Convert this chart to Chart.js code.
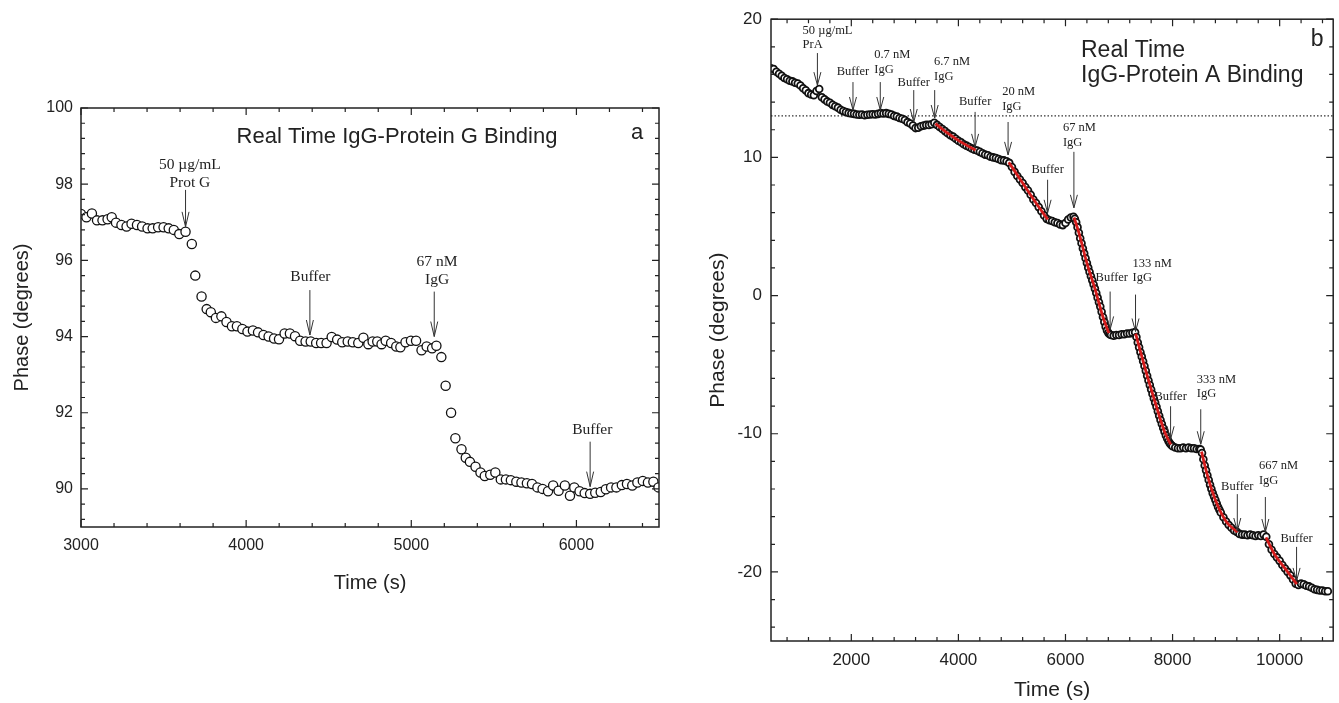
<!DOCTYPE html>
<html>
<head>
<meta charset="utf-8">
<script src="https://cdn.jsdelivr.net/npm/chart.js@4.4.1/dist/chart.umd.min.js"></script>
<style>
  body { margin: 0; background: #fff; }
  #wrapA { position: absolute; left: 0; top: 0; width: 680px; height: 620px; }
  #wrapB { position: absolute; left: 680px; top: 0; width: 659px; height: 703px; }
</style>
</head>
<body>
<div id="wrapA"><canvas id="chartA" width="680" height="620"></canvas></div>
<div id="wrapB"><canvas id="chartB" width="659" height="703"></canvas></div>
<script>
// ---- panel a : IgG - protein G ----
var aTimes = [3000,3033,3066,3097,3130,3161,3186,3212,3245,3276,
              3306,3339,3370,3403,3434,3467,3500,3531,3562,3595,
              3633,3671,3692,3730,3761,3786,3817,3850,3881,3914,
              3944,3977,4008,4041,4072,4105,4136,4169,4199,4233,
              4265,4296,4327,4360,4391,4424,4454,4487,4518,4551,
              4582,4615,4646,4679,4710,4740,4766,4794,4820,4845,
              4878,4909,4934,4965,4998,5029,5062,5093,5126,5152,
              5182,5208,5241,5267,5304,5330,5355,5389,5419,5445,
              5478,5509,5542,5573,5603,5636,5667,5700,5731,5764,
              5795,5828,5859,5892,5930,5961,5987,6019,6050,6083,
              6114,6147,6178,6210,6242,6275,6306,6338,6369,6402,
              6433,6466,6497];
var aPhase = [97.22,97.13,97.23,97.05,97.05,97.08,97.13,96.99,96.93,96.89,
              96.96,96.93,96.89,96.84,96.84,96.87,96.87,96.84,96.80,96.69,
              96.75,96.43,95.60,95.05,94.72,94.64,94.49,94.53,94.38,94.27,
              94.27,94.20,94.13,94.16,94.11,94.04,94.00,93.95,93.93,94.08,
              94.08,94.01,93.89,93.87,93.87,93.83,93.83,93.83,93.99,93.92,
              93.85,93.87,93.85,93.83,93.97,93.80,93.87,93.87,93.80,93.89,
              93.83,93.74,93.72,93.85,93.89,93.89,93.64,93.74,93.69,93.76,
              93.46,92.71,92.00,91.33,91.04,90.82,90.71,90.58,90.43,90.34,
              90.37,90.43,90.25,90.25,90.23,90.19,90.17,90.15,90.13,90.04,
              90.00,89.94,90.09,89.95,90.09,89.82,90.04,89.94,89.89,89.87,
              89.90,89.92,89.99,90.04,90.04,90.10,90.13,90.09,90.17,90.21,
              90.17,90.19,90.04];
var aXTicks = [3000, 4000, 5000, 6000];
var aYTicks = [90, 92, 94, 96, 98, 100];

var aNotes = [
  { lines: ['50 \u00b5g/mL', 'Prot G'], t: 3633, tail: 97.85, tip: 96.88, tx: 3659, ty: 98.5 },
  { lines: ['Buffer'], t: 4386, tail: 95.22, tip: 94.04, tx: 4389, ty: 95.56 },
  { lines: ['67 nM', 'IgG'], t: 5139, tail: 95.18, tip: 94.0, tx: 5156, ty: 95.96 },
  { lines: ['Buffer'], t: 6083, tail: 91.24, tip: 90.06, tx: 6096, ty: 91.55 }
];

// ---- panel b : IgG - protein A ----
var bTimes = [500,550,600,650,700,750,800,850,900,950,
              1000,1050,1100,1150,1200,1250,1300,1350,1400,1450,
              1500,1550,1600,1650,1700,1750,1800,1850,1900,1950,
              2000,2050,2100,2150,2200,2250,2300,2350,2400,2450,
              2500,2550,2600,2650,2700,2750,2800,2850,2900,2950,
              3000,3050,3100,3150,3200,3250,3300,3350,3400,3450,
              3500,3550,3600,3650,3700,3750,3800,3850,3900,3950,
              4000,4050,4100,4150,4200,4250,4300,4350,4400,4450,
              4500,4550,4600,4650,4700,4750,4800,4850,4900,4950,
              5000,5050,5100,5150,5200,5250,5300,5350,5400,5450,
              5500,5550,5600,5650,5700,5750,5800,5850,5900,5950,
              6000,6050,6100,6150,6175,6200,6225,6250,6275,6300,
              6325,6350,6375,6400,6425,6450,6475,6500,6525,6550,
              6575,6600,6625,6650,6675,6700,6725,6750,6775,6800,
              6825,6850,6900,6950,7000,7050,7100,7150,7200,7250,
              7300,7325,7350,7375,7400,7425,7450,7475,7500,7525,
              7550,7575,7600,7625,7650,7675,7700,7725,7750,7775,
              7800,7825,7850,7875,7900,7925,7950,7975,8000,8050,
              8100,8150,8200,8250,8300,8350,8400,8450,8500,8525,
              8550,8575,8600,8625,8650,8675,8700,8725,8750,8775,
              8800,8825,8850,8875,8900,8950,9000,9050,9100,9150,
              9200,9250,9300,9350,9400,9450,9500,9550,9600,9650,
              9700,9750,9800,9850,9900,9950,10000,10050,10100,10150,
              10200,10250,10300,10350,10400,10450,10500,10550,10600,10650,
              10700,10750,10800,10850,10900];
var bPhase = [16.45,16.40,16.20,16.05,15.90,15.75,15.65,15.55,15.50,15.40,
              15.35,15.20,15.00,14.85,14.65,14.55,14.50,14.80,14.95,14.35,
              14.20,14.05,13.95,13.80,13.70,13.60,13.45,13.35,13.28,13.22,
              13.18,13.15,13.10,13.08,13.10,13.05,13.08,13.10,13.12,13.10,
              13.15,13.20,13.18,13.20,13.15,13.10,13.00,12.95,12.85,12.80,
              12.70,12.55,12.45,12.30,12.12,12.15,12.25,12.30,12.35,12.35,
              12.40,12.50,12.35,12.20,12.05,11.90,11.75,11.60,11.50,11.35,
              11.20,11.10,10.95,10.85,10.75,10.65,10.55,10.50,10.40,10.30,
              10.20,10.15,10.05,10.00,9.95,9.88,9.80,9.78,9.72,9.60,
              9.30,8.95,8.65,8.40,8.15,7.85,7.60,7.30,6.95,6.70,
              6.40,6.10,5.80,5.55,5.45,5.40,5.30,5.25,5.15,5.10,
              5.25,5.50,5.65,5.70,5.55,5.30,4.95,4.55,4.15,3.78,
              3.40,3.05,2.70,2.35,2.02,1.70,1.40,1.10,0.80,0.50,
              0.18,-0.15,-0.48,-0.80,-1.18,-1.55,-1.92,-2.25,-2.52,-2.70,
              -2.80,-2.85,-2.90,-2.85,-2.85,-2.80,-2.80,-2.75,-2.75,-2.70,
              -2.65,-3.00,-3.40,-3.75,-4.10,-4.42,-4.75,-5.10,-5.45,-5.80,
              -6.15,-6.48,-6.80,-7.12,-7.45,-7.75,-8.05,-8.38,-8.70,-9.00,
              -9.30,-9.58,-9.85,-10.12,-10.35,-10.55,-10.70,-10.82,-10.90,-11.00,
              -11.05,-11.05,-11.00,-11.05,-11.00,-11.05,-11.05,-11.10,-11.10,-11.15,
              -11.40,-11.85,-12.30,-12.65,-13.00,-13.35,-13.70,-14.00,-14.30,-14.55,
              -14.80,-15.05,-15.30,-15.50,-15.70,-16.05,-16.35,-16.60,-16.80,-17.00,
              -17.10,-17.25,-17.30,-17.30,-17.35,-17.30,-17.35,-17.40,-17.35,-17.40,
              -17.30,-17.45,-18.00,-18.40,-18.70,-18.95,-19.20,-19.50,-19.75,-20.00,
              -20.25,-20.55,-20.85,-20.95,-20.85,-20.90,-21.00,-21.05,-21.15,-21.25,
              -21.30,-21.35,-21.35,-21.40,-21.40];

// red fitted curves over the binding steps
var fitTimes = [
  [3570, 3800, 4050, 4320],
  [4940, 5200, 5450, 5670],
  [6160, 6250, 6400, 6550, 6700, 6810],
  [7310, 7500, 7700, 7850, 7965],
  [8540, 8650, 8800, 9000, 9210],
  [9745, 9900, 10100, 10320]
];
var fitPhase = [
  [12.45, 11.75, 11.10, 10.52],
  [9.65, 8.15, 6.70, 5.50],
  [5.65, 4.55, 2.35, 0.50, -1.55, -2.72],
  [-2.75, -5.45, -8.05, -9.85, -10.78],
  [-11.30, -13.00, -14.80, -16.35, -17.12],
  [-17.50, -18.70, -19.75, -20.88]
];
var baseline = 13;
var bXTicks = [2000, 4000, 6000, 8000, 10000];
var bYTicks = [-20, -10, 0, 10, 20];

var bNotes = [
  { lines: ['50 \u00b5g/mL', 'PrA'], t: 1367, tail: 17.55, tip: 15.23, tx: 1090, ty: 19.2, align: 'left' },
  { lines: ['Buffer'], t: 2031, tail: 15.45, tip: 13.43, tx: 2031, ty: 16.17 },
  { lines: ['0.7 nM', 'IgG'], t: 2541, tail: 15.45, tip: 13.43, tx: 2428, ty: 17.40, align: 'left' },
  { lines: ['Buffer'], t: 3166, tail: 14.87, tip: 12.56, tx: 3166, ty: 15.38 },
  { lines: ['6.7 nM', 'IgG'], t: 3557, tail: 14.87, tip: 12.85, tx: 3544, ty: 16.90, align: 'left' },
  { lines: ['Buffer'], t: 4312, tail: 13.29, tip: 10.76, tx: 4312, ty: 14.01 },
  { lines: ['20 nM', 'IgG'], t: 4928, tail: 12.56, tip: 10.18, tx: 4817, ty: 14.73, align: 'left' },
  { lines: ['Buffer'], t: 5666, tail: 8.38, tip: 5.99, tx: 5666, ty: 9.10 },
  { lines: ['67 nM', 'IgG'], t: 6157, tail: 10.40, tip: 6.35, tx: 5952, ty: 12.13, align: 'left' },
  { lines: ['Buffer'], t: 6834, tail: 0.29, tip: -2.45, tx: 6865, ty: 1.30 },
  { lines: ['133 nM', 'IgG'], t: 7308, tail: 0.07, tip: -2.60, tx: 7253, ty: 2.31, align: 'left' },
  { lines: ['Buffer'], t: 7963, tail: -8.01, tip: -10.40, tx: 7963, ty: -7.29 },
  { lines: ['333 nM', 'IgG'], t: 8526, tail: -8.23, tip: -10.76, tx: 8452, ty: -6.06, align: 'left' },
  { lines: ['Buffer'], t: 9209, tail: -14.37, tip: -17.04, tx: 9209, ty: -13.86 },
  { lines: ['667 nM', 'IgG'], t: 9733, tail: -14.58, tip: -17.11, tx: 9613, ty: -12.35, align: 'left' },
  { lines: ['Buffer'], t: 10316, tail: -18.19, tip: -20.65, tx: 10316, ty: -17.62 }
];

var SANS = '"Liberation Sans", Arial, Helvetica, sans-serif';
var SERIF = '"Liberation Serif", "Times New Roman", serif';
var INK = '#222';

function toPts(ts, vs) {
  return ts.map(function (t, i) { return { x: t, y: vs[i] }; });
}

// frame, inward ticks on four sides, arrows with labels, panel title
function decorPlugin(cfg) {
  return {
    id: 'decor',
    afterDatasetsDraw: function (chart) {
      var ctx = chart.ctx, ca = chart.chartArea;
      var xs = chart.scales.x, ys = chart.scales.y;
      ctx.save();
      ctx.strokeStyle = INK;
      ctx.lineWidth = 1.5;
      ctx.strokeRect(ca.left, ca.top, ca.right - ca.left, ca.bottom - ca.top);

      ctx.lineWidth = 1.2;
      ctx.beginPath();
      var k, v, p, len;
      for (k = Math.ceil(xs.min / cfg.xMinor - 1e-9); k * cfg.xMinor <= xs.max + 1e-9; k++) {
        v = k * cfg.xMinor;
        len = Math.abs(v / cfg.xMajor - Math.round(v / cfg.xMajor)) < 1e-6 ? 7 : 4;
        p = xs.getPixelForValue(v);
        ctx.moveTo(p, ca.bottom); ctx.lineTo(p, ca.bottom - len);
        ctx.moveTo(p, ca.top); ctx.lineTo(p, ca.top + len);
      }
      for (k = Math.ceil(ys.min / cfg.yMinor - 1e-9); k * cfg.yMinor <= ys.max + 1e-9; k++) {
        v = k * cfg.yMinor;
        len = Math.abs(v / cfg.yMajor - Math.round(v / cfg.yMajor)) < 1e-6 ? 7 : 4;
        p = ys.getPixelForValue(v);
        ctx.moveTo(ca.left, p); ctx.lineTo(ca.left + len, p);
        ctx.moveTo(ca.right, p); ctx.lineTo(ca.right - len, p);
      }
      ctx.stroke();

      // arrows
      ctx.strokeStyle = '#333';
      ctx.lineWidth = 1;
      ctx.fillStyle = INK;
      ctx.font = cfg.noteSize + 'px ' + SERIF;
      ctx.textBaseline = 'middle';
      cfg.notes.forEach(function (n) {
        var px = xs.getPixelForValue(n.t);
        var y0 = ys.getPixelForValue(n.tail);
        var y1 = ys.getPixelForValue(n.tip);
        ctx.beginPath();
        ctx.moveTo(px, y0); ctx.lineTo(px, y1);
        ctx.moveTo(px - cfg.head[0], y1 - cfg.head[1]); ctx.lineTo(px, y1);
        ctx.lineTo(px + cfg.head[0], y1 - cfg.head[1]);
        ctx.stroke();
        var tx = xs.getPixelForValue(n.tx), ty = ys.getPixelForValue(n.ty);
        ctx.textAlign = n.align || 'center';
        n.lines.forEach(function (s, i) { ctx.fillText(s, tx, ty + i * cfg.noteStep); });
      });

      // panel title and letter
      ctx.font = cfg.titleSize + 'px ' + SANS;
      ctx.textAlign = cfg.titleAlign;
      cfg.title.forEach(function (s, i) {
        ctx.fillText(s, ca.left + cfg.titleDx, ca.top + cfg.titleDy + i * cfg.titleStep);
      });
      ctx.textAlign = 'center';
      ctx.fillText(cfg.letter, ca.right + cfg.letterDx, ca.top + cfg.letterDy);
      ctx.restore();
    }
  };
}

function axis(min, max, ticks, tickSize, pad, title, titleSize, titlePad, fitKey, fitVal) {
  var o = {
    type: 'linear', min: min, max: max,
    afterBuildTicks: function (s) { s.ticks = ticks.map(function (v) { return { value: v }; }); },
    ticks: { padding: pad, color: INK, font: { family: SANS, size: tickSize },
             callback: function (v) { return String(v); } },
    grid: { display: false, drawTicks: false },
    border: { display: false },
    title: { display: true, text: title, color: INK, padding: titlePad,
             font: { family: SANS, size: titleSize, lineHeight: 1.2 } }
  };
  o.afterFit = function (s) { s[fitKey] = fitVal; };
  return o;
}

new Chart(document.getElementById('chartA'), {
  type: 'scatter',
  data: {
    datasets: [{
      data: toPts(aTimes, aPhase),
      pointRadius: 4.6, pointBorderWidth: 1.3,
      pointBackgroundColor: '#fff', pointBorderColor: '#111'
    }]
  },
  options: {
    responsive: false, animation: false, devicePixelRatio: 1,
    layout: { padding: { left: 0, top: 108, right: 21, bottom: 0 } },
    plugins: { legend: { display: false }, tooltip: { enabled: false } },
    scales: {
      x: axis(3000, 6500, aXTicks, 16, 9, 'Time (s)', 20, { top: 0, bottom: 25 }, 'height', 93),
      y: axis(89, 100, aYTicks, 16, 8, 'Phase (degrees)', 20, { top: 10, bottom: 0 }, 'width', 81)
    }
  },
  plugins: [decorPlugin({
    xMinor: 200, xMajor: 1000, yMinor: 0.4, yMajor: 2,
    notes: aNotes, noteSize: 15.5, noteStep: 18, head: [3.5, 15],
    title: ['Real Time IgG-Protein G Binding'], titleSize: 22, titleAlign: 'center',
    titleDx: 316, titleDy: 29, titleStep: 0,
    letter: 'a', letterDx: -22, letterDy: 25
  })]
});

new Chart(document.getElementById('chartB'), {
  type: 'scatter',
  data: {
    datasets: fitTimes.map(function (ts, i) {
      return {
        type: 'line', data: toPts(ts, fitPhase[i]), order: 0,
        borderColor: '#d41c1c', borderWidth: 2.8, pointRadius: 0,
        tension: 0.4, cubicInterpolationMode: 'monotone', fill: false
      };
    }).concat([{
      data: toPts(bTimes, bPhase), order: 1,
      pointRadius: 3.4, pointBorderWidth: 1.8,
      pointBackgroundColor: '#fff', pointBorderColor: '#111'
    }, {
      type: 'line', data: [{ x: 500, y: baseline }, { x: 11000, y: baseline }], order: 2,
      borderColor: '#333', borderWidth: 1.2, borderDash: [1.5, 2], pointRadius: 0, fill: false
    }])
  },
  options: {
    responsive: false, animation: false, devicePixelRatio: 1,
    layout: { padding: { left: 0, top: 19, right: 1, bottom: 0 } },
    plugins: { legend: { display: false }, tooltip: { enabled: false } },
    scales: {
      x: axis(500, 11000, bXTicks, 17, 9, 'Time (s)', 21, { top: 0, bottom: 0 }, 'height', 62),
      y: axis(-25, 20, bYTicks, 17, 9, 'Phase (degrees)', 21, { top: 26, bottom: 0 }, 'width', 91)
    }
  },
  plugins: [decorPlugin({
    xMinor: 400, xMajor: 2000, yMinor: 2, yMajor: 10,
    notes: bNotes, noteSize: 12.5, noteStep: 14.5, head: [3.5, 13],
    title: ['Real Time', 'IgG-Protein A Binding'], titleSize: 23, titleAlign: 'left',
    titleDx: 310, titleDy: 31, titleStep: 25,
    letter: 'b', letterDx: -16, letterDy: 20
  })]
});
</script>
</body>
</html>
